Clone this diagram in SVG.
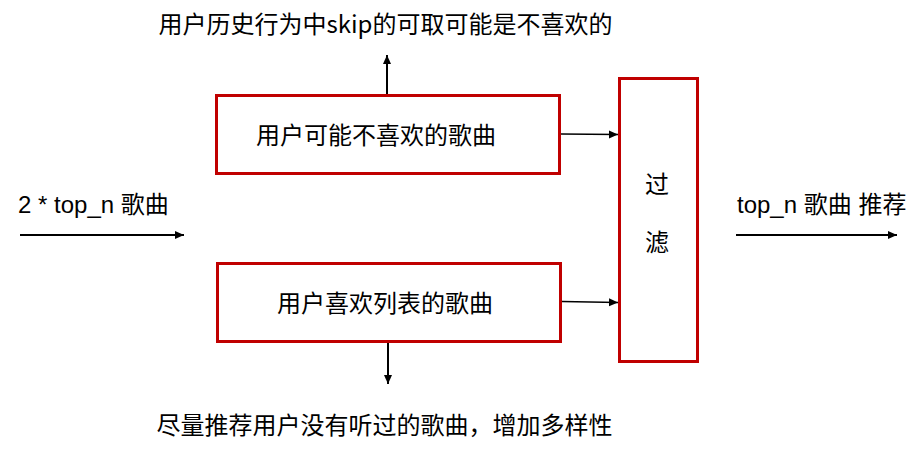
<svg xmlns="http://www.w3.org/2000/svg" width="919" height="455" viewBox="0 0 919 455">
<style>
.box{fill:#ffffff;stroke:#C00000;stroke-width:3}
.t{font-family:"Liberation Sans","Noto Sans CJK SC",sans-serif;font-size:24px;fill:#000}
.c{font-family:"Noto Sans CJK SC",sans-serif;font-size:24px;fill:#000}
.ln{stroke:#000;stroke-width:2;fill:none}
.ln2{stroke:#000;stroke-width:1.6;fill:none}
</style>
<defs>
<marker id="ah" markerUnits="userSpaceOnUse" markerWidth="10" markerHeight="10" viewBox="0 0 10 10" refX="9" refY="5" orient="auto">
<path d="M0,1 L9,5 L0,9 Z" fill="#000"/>
</marker>
</defs>
<rect width="919" height="455" fill="#fff"/>
<g id="connectors">
<line class="ln" x1="20" y1="235" x2="184" y2="235" marker-end="url(#ah)"/>
<line class="ln" x1="736" y1="235" x2="897" y2="235" marker-end="url(#ah)"/>
<line class="ln" x1="387" y1="94" x2="387" y2="55" marker-end="url(#ah)"/>
<line class="ln" x1="388" y1="343" x2="388" y2="384" marker-end="url(#ah)"/>
<line class="ln2" x1="561" y1="134" x2="618" y2="134.5" marker-end="url(#ah)"/>
<line class="ln2" x1="562" y1="301.5" x2="618" y2="302.5" marker-end="url(#ah)"/>
</g>
<g id="dislike">
<rect class="box" x="216.5" y="95.5" width="343" height="78"/>
<text class="c" x="376" y="144" text-anchor="middle">用户可能不喜欢的歌曲</text>
</g>
<g id="like">
<rect class="box" x="217.5" y="263.5" width="343" height="78"/>
<text class="c" x="385" y="312" text-anchor="middle">用户喜欢列表的歌曲</text>
</g>
<g id="filter">
<rect class="box" x="619.5" y="78.5" width="78" height="283"/>
<text class="c" x="657" y="193" text-anchor="middle">过</text>
<text class="c" x="657" y="251" text-anchor="middle">滤</text>
</g>
<g id="labels">
<text class="t" x="18" y="213">2 * top_n 歌曲</text>
<text class="t" x="737" y="213">top_n 歌曲 推荐</text>
<text class="c" x="385.5" y="33" text-anchor="middle">用户历史行为中skip的可取可能是不喜欢的</text>
<text class="c" x="384.5" y="434" text-anchor="middle">尽量推荐用户没有听过的歌曲，增加多样性</text>
</g>
</svg>
